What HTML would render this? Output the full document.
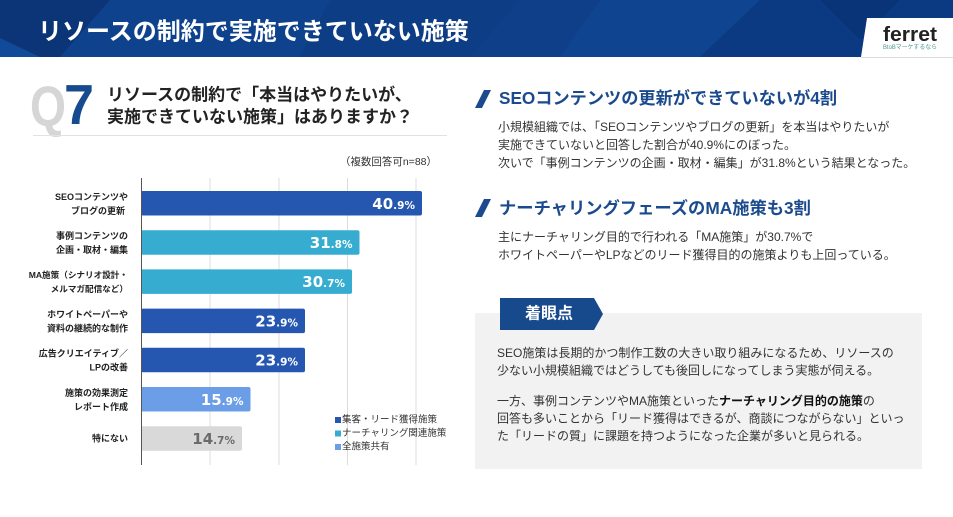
<!DOCTYPE html>
<html lang="ja">
<head>
<meta charset="utf-8">
<style>
  html,body{margin:0;padding:0;background:#fff;}
  body{width:953px;height:517px;overflow:hidden;}
  svg{display:block;}
  .jp{font-family:"Liberation Sans","Noto Sans CJK JP",sans-serif;}
  .num{font-family:"DejaVu Sans","Liberation Sans",sans-serif;font-weight:bold;}
</style>
</head>
<body>
<svg width="953" height="517" viewBox="0 0 953 517" xmlns="http://www.w3.org/2000/svg">
  <!-- HEADER -->
  <rect x="0" y="0" width="953" height="57" fill="#0e3f88"/>
  <polygon points="0,0 110,0 60,57 0,57" fill="#0b3577"/>
  <polygon points="0,38 40,57 0,57" fill="#114a98"/>
  <polygon points="110,0 330,0 300,57 60,57" fill="#0f428d"/>
  <polygon points="330,0 520,0 470,57 300,57" fill="#0d3d85"/>
  <polygon points="600,0 760,0 700,57 560,57" fill="#0f4490"/>
  <polygon points="760,0 953,0 953,18 880,57 700,57" fill="#0c3a82"/>
  <polygon points="820,0 900,0 860,40" fill="#0a3478"/>
  <text x="38" y="32" class="jp" font-size="24" font-weight="bold" fill="#ffffff" dominant-baseline="central">リソースの制約で実施できていない施策</text>
  <!-- logo -->
  <polygon points="867,18 953,18 953,57 861,57" fill="#ffffff"/>
  <line x1="861" y1="57.5" x2="953" y2="57.5" stroke="#dddddd" stroke-width="1"/>
  <text x="883" y="41" font-family="Liberation Sans, sans-serif" font-size="20" font-weight="bold" fill="#222" textLength="54" lengthAdjust="spacingAndGlyphs">ferret</text>
  <text x="883" y="49" class="jp" font-size="6" fill="#4d9b8e" textLength="54" lengthAdjust="spacingAndGlyphs">BtoBマーケするなら</text>

  <!-- Q7 -->
  <text x="30" y="126" font-family="Liberation Sans, sans-serif" font-size="57" font-weight="bold" fill="#d6d6d6" textLength="36" lengthAdjust="spacingAndGlyphs">Q</text>
  <text x="64" y="124" font-family="Liberation Sans, sans-serif" font-size="57" font-weight="bold" fill="#174b8f" textLength="30" lengthAdjust="spacingAndGlyphs">7</text>
  <text x="107" y="95" class="jp" font-size="17" font-weight="bold" fill="#222" dominant-baseline="central">リソースの制約で「本当はやりたいが、</text>
  <text x="107" y="117" class="jp" font-size="17" font-weight="bold" fill="#222" dominant-baseline="central">実施できていない施策」はありますか？</text>
  <line x1="33" y1="135.5" x2="447" y2="135.5" stroke="#e2e2e2" stroke-width="1"/>
  <text x="437" y="162" class="jp" font-size="10.5" fill="#333" text-anchor="end" dominant-baseline="central">（複数回答可n=88）</text>

  <!-- CHART grid -->
  <g stroke="#dcdcdc" stroke-width="1">
    <line x1="210" y1="178" x2="210" y2="465"/>
    <line x1="279" y1="178" x2="279" y2="465"/>
    <line x1="347.5" y1="178" x2="347.5" y2="465"/>
    <line x1="416" y1="178" x2="416" y2="465"/>
  </g>

  <!-- bars -->
  <rect x="141" y="191" width="281" height="24.5" rx="2" fill="#2657b0"/>
  <rect x="141" y="230.2" width="218.5" height="24.5" rx="2" fill="#35acd0"/>
  <rect x="141" y="269.4" width="211" height="24.5" rx="2" fill="#35acd0"/>
  <rect x="141" y="308.6" width="164" height="24.5" rx="2" fill="#2657b0"/>
  <rect x="141" y="347.8" width="164" height="24.5" rx="2" fill="#2657b0"/>
  <rect x="141" y="387" width="109.5" height="24.5" rx="2" fill="#6b9ee7"/>
  <rect x="141" y="426.2" width="101" height="24.5" rx="2" fill="#d9d9d9"/>

  <line x1="141.5" y1="178" x2="141.5" y2="465" stroke="#555" stroke-width="1"/>

  <!-- values -->
  <g class="num" fill="#ffffff" text-anchor="end">
    <text x="415" y="208.8"><tspan font-size="15">40</tspan><tspan font-size="10.5">.9%</tspan></text>
    <text x="352.5" y="248"><tspan font-size="15">31</tspan><tspan font-size="10.5">.8%</tspan></text>
    <text x="345" y="287.2"><tspan font-size="15">30</tspan><tspan font-size="10.5">.7%</tspan></text>
    <text x="298" y="326.4"><tspan font-size="15">23</tspan><tspan font-size="10.5">.9%</tspan></text>
    <text x="298" y="365.6"><tspan font-size="15">23</tspan><tspan font-size="10.5">.9%</tspan></text>
    <text x="243.5" y="404.8"><tspan font-size="15">15</tspan><tspan font-size="10.5">.9%</tspan></text>
    <text x="235" y="444" fill="#6b6b6b"><tspan font-size="15">14</tspan><tspan font-size="10.5">.7%</tspan></text>
  </g>

  <!-- category labels -->
  <g class="jp" font-size="9" font-weight="bold" fill="#222" text-anchor="end" dominant-baseline="central">
    <text x="128" y="196.8">SEOコンテンツや</text>
    <text x="125" y="210.8">ブログの更新</text>
    <text x="128" y="236">事例コンテンツの</text>
    <text x="128" y="250">企画・取材・編集</text>
    <text x="128" y="275.2" font-size="8.6">MA施策（シナリオ設計・</text>
    <text x="128" y="289.2" font-size="8.6">メルマガ配信など）</text>
    <text x="128" y="314.4">ホワイトペーパーや</text>
    <text x="128" y="328.4">資料の継続的な制作</text>
    <text x="128" y="353.6">広告クリエイティブ／</text>
    <text x="128" y="367.6">LPの改善</text>
    <text x="128" y="392.8">施策の効果測定</text>
    <text x="128" y="406.8">レポート作成</text>
    <text x="128" y="438.5">特にない</text>
  </g>

  <!-- legend -->
  <rect x="335" y="417" width="6" height="6" fill="#2657b0"/>
  <rect x="335" y="430.5" width="6" height="6" fill="#35acd0"/>
  <rect x="335" y="444" width="6" height="6" fill="#6b9ee7"/>
  <g class="jp" font-size="9.5" fill="#333" dominant-baseline="central">
    <text x="342" y="420">集客・リード獲得施策</text>
    <text x="342" y="433.5">ナーチャリング関連施策</text>
    <text x="342" y="447">全施策共有</text>
  </g>

  <!-- RIGHT: heading 1 -->
  <polygon points="484,90 491,90 482,108 475,108" fill="#1b4b8e"/>
  <text x="499" y="98" class="jp" font-size="17.2" font-weight="bold" fill="#1b4b8e" dominant-baseline="central">SEOコンテンツの更新ができていないが4割</text>
  <g class="jp" font-size="12" fill="#333" dominant-baseline="central">
    <text x="498" y="127">小規模組織では、「SEOコンテンツやブログの更新」を本当はやりたいが</text>
    <text x="498" y="145">実施できていないと回答した割合が40.9%にのぼった。</text>
    <text x="498" y="163">次いで「事例コンテンツの企画・取材・編集」が31.8%という結果となった。</text>
  </g>

  <!-- heading 2 -->
  <polygon points="484,199 491,199 482,217 475,217" fill="#1b4b8e"/>
  <text x="499" y="208" class="jp" font-size="17.3" font-weight="bold" fill="#1b4b8e" dominant-baseline="central">ナーチャリングフェーズのMA施策も3割</text>
  <g class="jp" font-size="12" fill="#333" dominant-baseline="central">
    <text x="498" y="237">主にナーチャリング目的で行われる「MA施策」が30.7%で</text>
    <text x="498" y="255">ホワイトペーパーやLPなどのリード獲得目的の施策よりも上回っている。</text>
  </g>

  <!-- box -->
  <rect x="475" y="313" width="447" height="156" fill="#f2f2f2"/>
  <polygon points="500,298 594,298 603,314 594,330 500,330" fill="#174a8c"/>
  <text x="549" y="314" class="jp" font-size="16" font-weight="bold" fill="#ffffff" text-anchor="middle" dominant-baseline="central">着眼点</text>
  <g class="jp" font-size="12" fill="#333" dominant-baseline="central">
    <text x="497" y="353">SEO施策は長期的かつ制作工数の大きい取り組みになるため、リソースの</text>
    <text x="497" y="370.5">少ない小規模組織ではどうしても後回しになってしまう実態が伺える。</text>
    <text x="497" y="401">一方、事例コンテンツやMA施策といった<tspan font-weight="bold" fill="#111">ナーチャリング目的の施策</tspan>の</text>
    <text x="497" y="418.5">回答も多いことから「リード獲得はできるが、商談につながらない」といっ</text>
    <text x="497" y="436">た「リードの質」に課題を持つようになった企業が多いと見られる。</text>
  </g>
</svg>
</body>
</html>
